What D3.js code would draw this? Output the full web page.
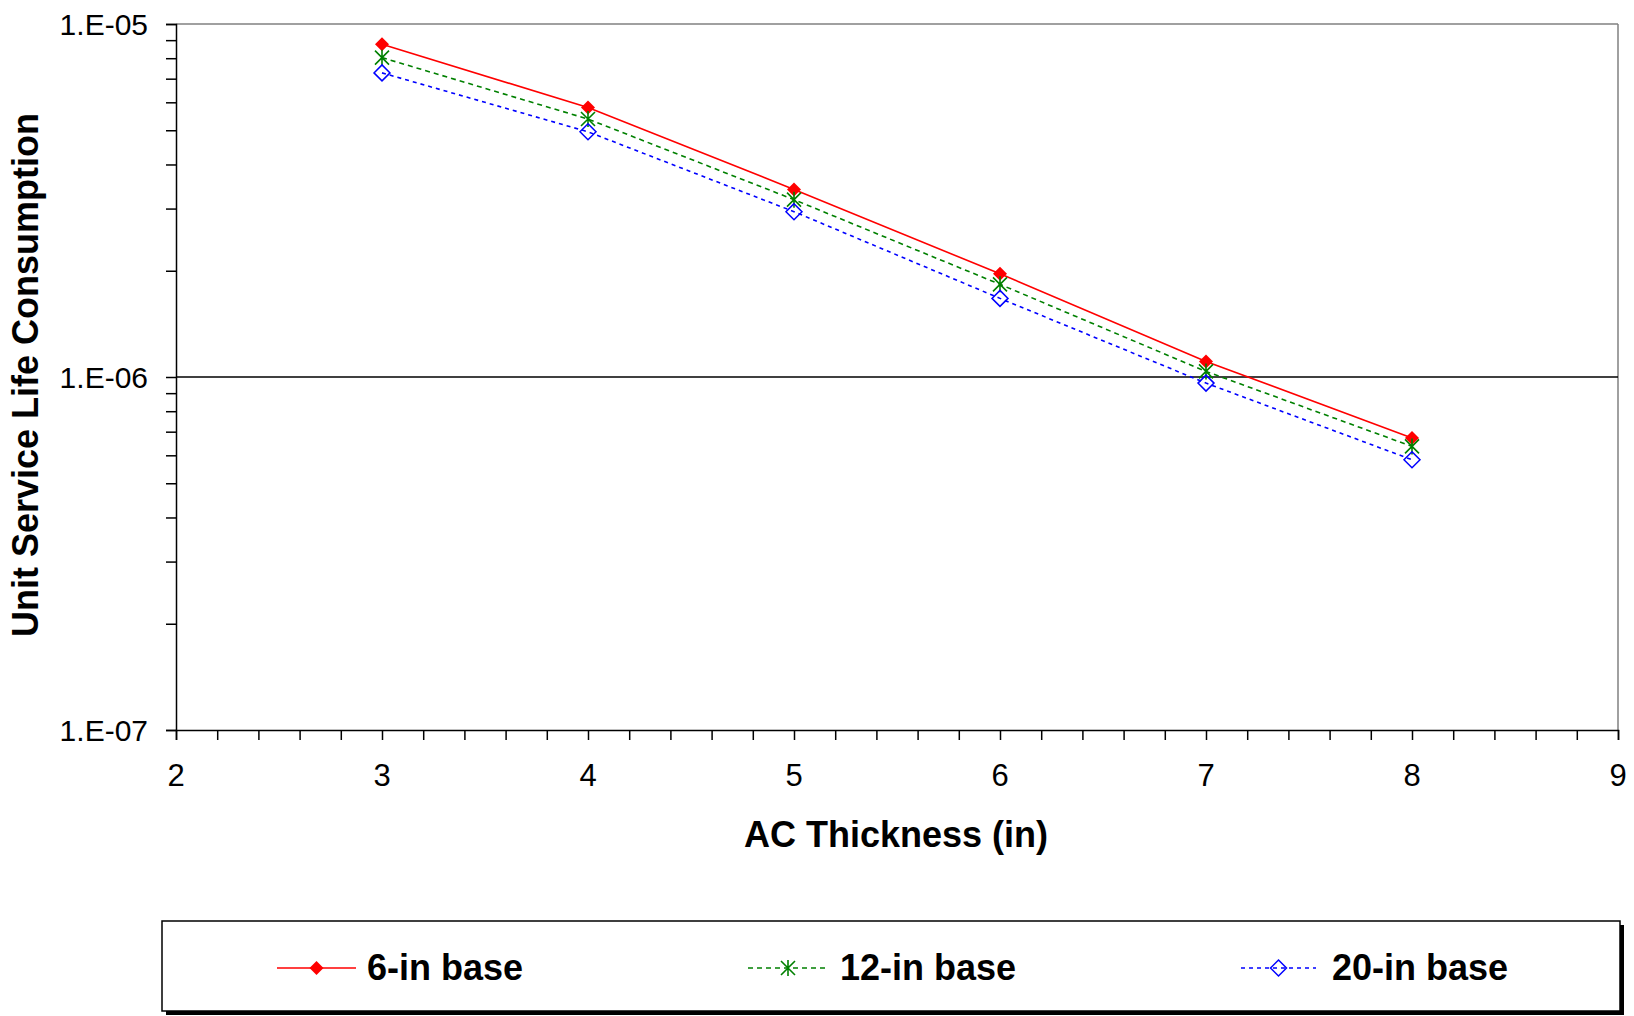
<!DOCTYPE html>
<html><head><meta charset="utf-8">
<script src="https://cdn.jsdelivr.net/npm/d3@7"></script>
<style>body{margin:0;background:#fff}svg{display:block}text{font-family:"Liberation Sans",Arial,sans-serif}</style>
</head><body><svg id="c" width="1634" height="1016"></svg>
<script>
const thickness = [3, 4, 5, 6, 7, 8];
const base6 = [8.76e-6, 5.80e-6, 3.40e-6, 1.96e-6, 1.107e-6, 6.72e-7];
const base12 = [8.03e-6, 5.38e-6, 3.18e-6, 1.83e-6, 1.037e-6, 6.36e-7];
const base20 = [7.27e-6, 4.95e-6, 2.94e-6, 1.67e-6, 0.961e-6, 5.83e-7];
const seriesNames = ["6-in base", "12-in base", "20-in base"];
const xTicks = [2, 3, 4, 5, 6, 7, 8, 9];
const yTicks = [1e-7, 1e-6, 1e-5];
const yTickLabels = ["1.E-07", "1.E-06", "1.E-05"];

const svg = d3.select("#c");
const L = 176, R = 1618, T = 24, B = 730;
const x = d3.scaleLinear().domain([2, 9]).range([L, R]);
const y = d3.scaleLog().domain([1e-7, 1e-5]).range([B, T]);

const series = [
  {name: seriesNames[0], vals: base6, color: "#ff0000", dash: null, marker: "fdiamond"},
  {name: seriesNames[1], vals: base12, color: "#008000", dash: "5,4", marker: "star"},
  {name: seriesNames[2], vals: base20, color: "#0000ff", dash: "4,4", marker: "odiamond"}
];

svg.append("line").attr("x1", L).attr("x2", R).attr("y1", T).attr("y2", T).attr("stroke", "#808080").attr("stroke-width", 1.5);
svg.append("line").attr("x1", R).attr("x2", R).attr("y1", T).attr("y2", B).attr("stroke", "#808080").attr("stroke-width", 1.5);
svg.append("line").attr("x1", L).attr("x2", R).attr("y1", y(1e-6)).attr("y2", y(1e-6)).attr("stroke", "#000").attr("stroke-width", 1.5);

const minorY = [];
for (let e = -7; e < -5; e++) for (let m = 2; m <= 9; m++) minorY.push(m * Math.pow(10, e));
const yAxis = svg.append("g").attr("transform", `translate(${L},0)`)
  .call(d3.axisLeft(y).tickValues(yTicks.concat(minorY)).tickSize(10).tickFormat(() => ""));
yAxis.select(".domain").attr("stroke", "#000").attr("stroke-width", 1.5);
yAxis.selectAll(".tick line").attr("stroke", "#000").attr("stroke-width", 1.5);
svg.selectAll(".ylab").data(yTicks).enter().append("text")
  .attr("x", 148).attr("y", d => y(d) + 11).attr("text-anchor", "end")
  .attr("font-size", 30).text((d, i) => yTickLabels[i]);

const minorX = d3.range(2, 9.001, 0.2);
const xAxis = svg.append("g").attr("transform", `translate(0,${B})`)
  .call(d3.axisBottom(x).tickValues(minorX).tickSize(10).tickFormat(() => ""));
xAxis.select(".domain").attr("stroke", "#000").attr("stroke-width", 1.5);
xAxis.selectAll(".tick line").attr("stroke", "#000").attr("stroke-width", 1.5);
svg.selectAll(".xlab").data(xTicks).enter().append("text")
  .attr("x", d => x(d)).attr("y", 786).attr("text-anchor", "middle")
  .attr("font-size", 31).text(d => d);

svg.append("text").attr("x", 896).attr("y", 847).attr("text-anchor", "middle")
  .attr("font-size", 36).attr("font-weight", "bold").text("AC Thickness (in)");
svg.append("text").attr("transform", `translate(38,${(T + B) / 2 - 2}) rotate(-90)`)
  .attr("text-anchor", "middle").attr("font-size", 36).attr("font-weight", "bold")
  .text("Unit Service Life Consumption");

function drawMarker(g, type, cx, cy, color) {
  if (type === "fdiamond") {
    g.append("path").attr("d", `M${cx},${cy-7}L${cx+7},${cy}L${cx},${cy+7}L${cx-7},${cy}Z`).attr("fill", color);
  } else if (type === "odiamond") {
    g.append("path").attr("d", `M${cx},${cy-8}L${cx+8},${cy}L${cx},${cy+8}L${cx-8},${cy}Z`).attr("fill", "none").attr("stroke", color).attr("stroke-width", 1.5);
  } else {
    const s = 7;
    g.append("path").attr("d", `M${cx-s},${cy-s}L${cx+s},${cy+s}M${cx+s},${cy-s}L${cx-s},${cy+s}M${cx},${cy-s-1}L${cx},${cy+s+1}`)
      .attr("stroke", color).attr("stroke-width", 1.6).attr("fill", "none");
  }
}

const line = d3.line().x((d, i) => x(thickness[i])).y(d => y(d));
series.forEach(s => {
  svg.append("path").datum(s.vals).attr("d", line).attr("fill", "none")
    .attr("stroke", s.color).attr("stroke-width", 1.6).attr("stroke-dasharray", s.dash);
});
series.forEach(s => {
  const g = svg.append("g");
  s.vals.forEach((v, i) => drawMarker(g, s.marker, x(thickness[i]), y(v), s.color));
});

const lg = svg.append("g");
lg.append("rect").attr("x", 166).attr("y", 925).attr("width", 1458).attr("height", 90).attr("fill", "#000");
lg.append("rect").attr("x", 162).attr("y", 921).attr("width", 1458).attr("height", 90).attr("fill", "#fff").attr("stroke", "#000").attr("stroke-width", 1.5);
const legPos = [{x1: 277, x2: 356, tx: 367}, {x1: 748, x2: 828, tx: 840}, {x1: 1241, x2: 1316, tx: 1332}];
series.forEach((s, i) => {
  const p = legPos[i], ly = 968;
  lg.append("line").attr("x1", p.x1).attr("x2", p.x2).attr("y1", ly).attr("y2", ly)
    .attr("stroke", s.color).attr("stroke-width", 1.6).attr("stroke-dasharray", s.dash);
  drawMarker(lg, s.marker, (p.x1 + p.x2) / 2, ly, s.color);
  lg.append("text").attr("x", p.tx).attr("y", ly + 12).attr("font-size", 36).attr("font-weight", "bold").text(s.name);
});
</script></body></html>
